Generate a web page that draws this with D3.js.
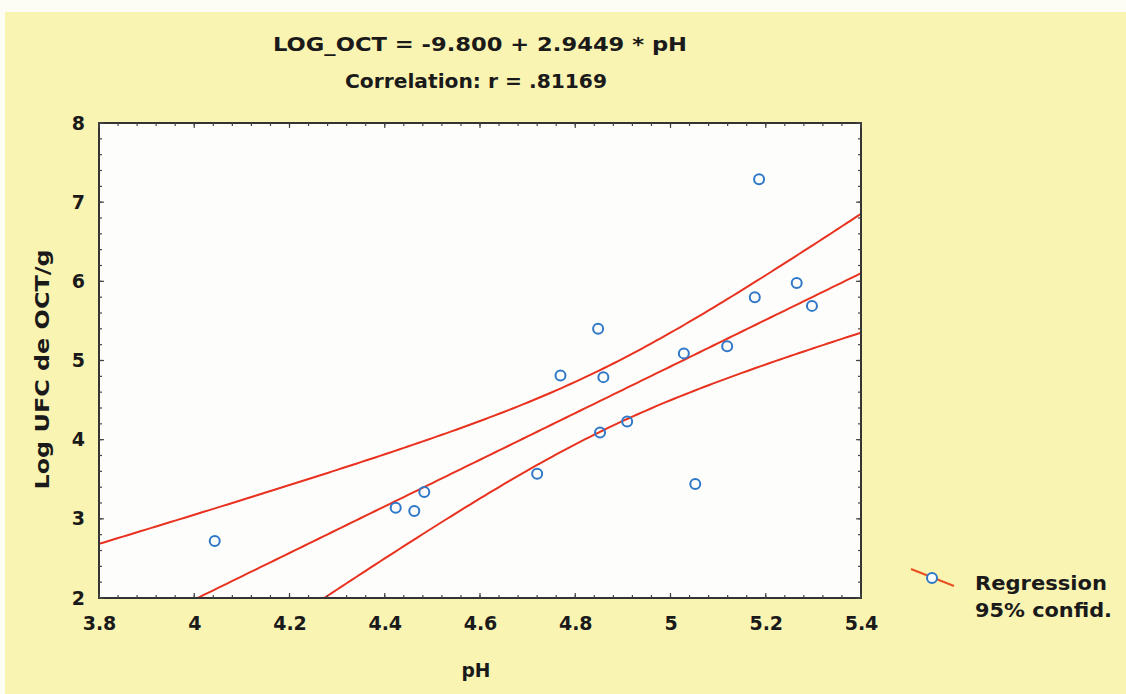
<!DOCTYPE html>
<html>
<head>
<meta charset="utf-8">
<script src="https://cdn.jsdelivr.net/npm/d3@7"></script>
<style>
  html, body { margin: 0; padding: 0; background: #ffffff; }
  svg { display: block; }
  text { font-family: "DejaVu Sans", "Liberation Sans", Arial, sans-serif; font-weight: bold; fill: #1a1a1a; }
</style>
</head>
<body>
<svg id="chart" width="1126" height="694"></svg>
<script>
// Measured samples: pH and log colony counts
const pH = [4.043, 4.423, 4.462, 4.483, 4.72, 4.769, 4.848, 4.859, 4.852, 4.909, 5.028, 5.052, 5.119, 5.177, 5.186, 5.265, 5.297];
const logOct = [2.72, 3.14, 3.10, 3.34, 3.57, 4.81, 5.40, 4.79, 4.09, 4.23, 5.09, 3.44, 5.18, 5.80, 7.29, 5.98, 5.69];

// Fitted model as reported
const intercept = -9.800;
const slope = 2.9449;
const tCrit = 2.131; // t(0.975, df = 15)

const xTicks = [3.8, 4, 4.2, 4.4, 4.6, 4.8, 5, 5.2, 5.4];
const yTicks = [2, 3, 4, 5, 6, 7, 8];

const titleLines = ["LOG_OCT = -9.800 + 2.9449 * pH", "Correlation: r = .81169"];
const legendLabels = ["Regression", "95% confid."];

const svg = d3.select("#chart");
const W = 1126, H = 694;
const FONT = "DejaVu Sans, Liberation Sans, Arial, sans-serif";

// page + card background
svg.append("rect").attr("width", W).attr("height", H).attr("fill", "#fdfdf6");
svg.append("rect").attr("x", 5).attr("y", 12).attr("width", W - 5).attr("height", H - 12).attr("fill", "#faf4b3");

const plot = { left: 99, right: 861, top: 123, bottom: 598 };
const x = d3.scaleLinear().domain([3.8, 5.4]).range([plot.left, plot.right]);
const y = d3.scaleLinear().domain([2, 8]).range([plot.bottom, plot.top]);

svg.append("rect")
  .attr("x", plot.left).attr("y", plot.top)
  .attr("width", plot.right - plot.left).attr("height", plot.bottom - plot.top)
  .attr("fill", "#fdfdfb");

svg.append("clipPath").attr("id", "plotClip")
  .append("rect")
  .attr("x", plot.left).attr("y", plot.top)
  .attr("width", plot.right - plot.left).attr("height", plot.bottom - plot.top);

// Regression line and 95% confidence band of the mean
const n = pH.length;
const xMean = d3.mean(pH);
const sxx = d3.sum(pH, v => (v - xMean) ** 2);
const sse = d3.sum(pH, (v, i) => (logOct[i] - (intercept + slope * v)) ** 2);
const s = Math.sqrt(sse / (n - 2));

const grid = d3.range(3.8, 5.4001, 0.01);
const fit = v => intercept + slope * v;
const half = v => tCrit * s * Math.sqrt(1 / n + (v - xMean) ** 2 / sxx);

const line = d3.line().x(d => x(d[0])).y(d => y(d[1]));
const curves = [
  grid.map(v => [v, fit(v) + half(v)]),
  grid.map(v => [v, fit(v)]),
  grid.map(v => [v, fit(v) - half(v)])
];

const g = svg.append("g").attr("clip-path", "url(#plotClip)");
g.selectAll("path.fit").data(curves).join("path")
  .attr("class", "fit")
  .attr("d", line)
  .attr("fill", "none")
  .attr("stroke", "#e8321f")
  .attr("stroke-width", 2);

g.selectAll("circle").data(pH).join("circle")
  .attr("cx", d => x(d))
  .attr("cy", (d, i) => y(logOct[i]))
  .attr("r", 5)
  .attr("fill", "none")
  .attr("stroke", "#2f78c8")
  .attr("stroke-width", 2);

// Frame
svg.append("rect")
  .attr("x", plot.left).attr("y", plot.top)
  .attr("width", plot.right - plot.left).attr("height", plot.bottom - plot.top)
  .attr("fill", "none").attr("stroke", "#333").attr("stroke-width", 2);

// Axes with inward ticks
const xMinor = d3.range(3.8, 5.4001, 0.04);
const yMinor = d3.range(2, 8.0001, 0.2);

const styleLabels = sel => sel.selectAll("text")
  .attr("font-size", 19).attr("font-family", FONT)
  .attr("font-weight", "bold").attr("fill", "#1a1a1a");

const xAxisB = d3.axisBottom(x).tickValues(xTicks).tickSize(0).tickPadding(19).tickFormat(d3.format("~g"));
const gx = svg.append("g").attr("transform", `translate(0,${plot.bottom})`).call(xAxisB);
gx.select(".domain").remove();
styleLabels(gx);

const yAxisL = d3.axisLeft(y).tickValues(yTicks).tickSize(0).tickPadding(14).tickFormat(d3.format("~g"));
const gy = svg.append("g").attr("transform", `translate(${plot.left},0)`).call(yAxisL);
gy.select(".domain").remove();
styleLabels(gy);

const tickG = svg.append("g").attr("stroke", "#444").attr("stroke-width", 1.2);
[plot.bottom, plot.top].forEach((yy, k) => {
  const dir = k === 0 ? -1 : 1;
  tickG.selectAll(null).data(xMinor).join("line")
    .attr("x1", d => x(d)).attr("x2", d => x(d))
    .attr("y1", yy).attr("y2", yy + dir * 3);
  tickG.selectAll(null).data(xTicks).join("line")
    .attr("x1", d => x(d)).attr("x2", d => x(d))
    .attr("y1", yy).attr("y2", yy + dir * 5);
});
[plot.left, plot.right].forEach((xx, k) => {
  const dir = k === 0 ? 1 : -1;
  tickG.selectAll(null).data(yMinor).join("line")
    .attr("y1", d => y(d)).attr("y2", d => y(d))
    .attr("x1", xx).attr("x2", xx + dir * 3);
  tickG.selectAll(null).data(yTicks).join("line")
    .attr("y1", d => y(d)).attr("y2", d => y(d))
    .attr("x1", xx).attr("x2", xx + dir * 5);
});

// Titles
const titleWidths = [414, 262];
svg.selectAll("text.title").data(titleLines).join("text")
  .attr("class", "title")
  .attr("x", (d, i) => i === 0 ? 480 : 476)
  .attr("y", (d, i) => 51 + i * 37)
  .attr("text-anchor", "middle")
  .attr("font-size", 19)
  .attr("textLength", (d, i) => titleWidths[i])
  .attr("lengthAdjust", "spacingAndGlyphs")
  .text(d => d);

// Axis titles
svg.append("text")
  .attr("x", 476)
  .attr("y", 677)
  .attr("text-anchor", "middle")
  .attr("font-size", 20)
  .attr("textLength", 29)
  .attr("lengthAdjust", "spacingAndGlyphs")
  .text("pH");

svg.append("text")
  .attr("transform", `translate(49,${(plot.top + plot.bottom) / 2 + 9}) rotate(-90)`)
  .attr("text-anchor", "middle")
  .attr("font-size", 20)
  .attr("textLength", 240)
  .attr("lengthAdjust", "spacingAndGlyphs")
  .text("Log UFC de OCT/g");

// Legend
const lg = svg.append("g");
lg.append("line").attr("x1", 911).attr("y1", 569).attr("x2", 954).attr("y2", 586)
  .attr("stroke", "#e8501f").attr("stroke-width", 2);
lg.append("circle").attr("cx", 932).attr("cy", 578).attr("r", 5)
  .attr("fill", "#fdfdfb").attr("stroke", "#2f78c8").attr("stroke-width", 2);
const legendWidths = [132, 137];
lg.selectAll("text").data(legendLabels).join("text")
  .attr("x", 975)
  .attr("y", (d, i) => 590 + i * 27)
  .attr("font-size", 19)
  .attr("textLength", (d, i) => legendWidths[i])
  .attr("lengthAdjust", "spacingAndGlyphs")
  .text(d => d);
</script>
</body>
</html>
